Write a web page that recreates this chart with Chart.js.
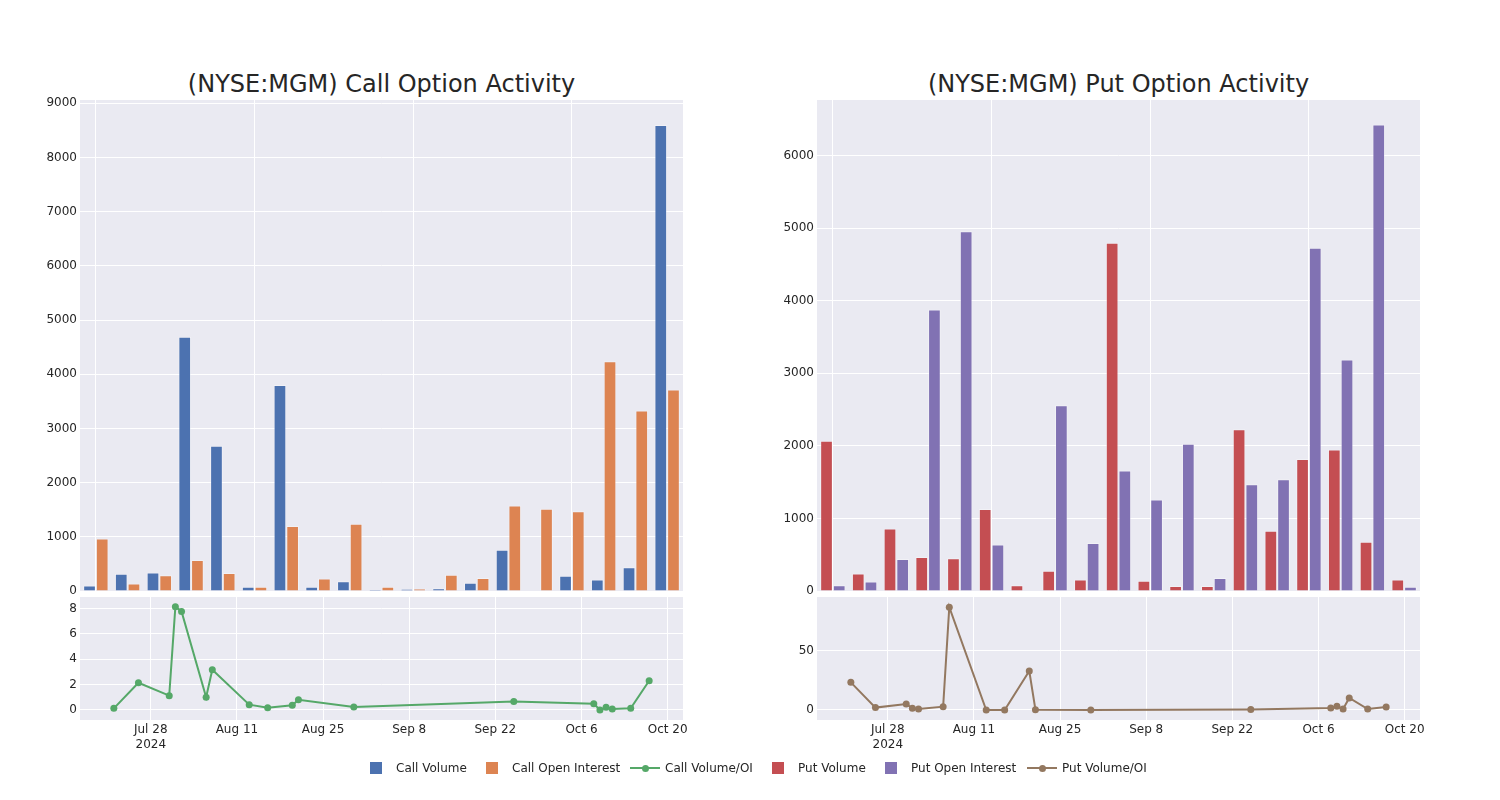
<!DOCTYPE html>
<html>
<head>
<meta charset="utf-8">
<script src="https://cdn.jsdelivr.net/npm/chart.js@4.4.1/dist/chart.umd.min.js"></script>
<style>
  html, body { margin: 0; padding: 0; background: #ffffff; }
  body { width: 1500px; height: 800px; position: relative; overflow: hidden; font-family: 'DejaVu Sans', sans-serif; color: #262626; }
  canvas { position: absolute; }
  .title { position: absolute; width: 603px; text-align: center; font-size: 24px; line-height: 28px; top: 70px; color: #262626; white-space: nowrap; }
  .lg { position: absolute; font-size: 12px; line-height: 16px; top: 760px; color: #262626; white-space: nowrap; }
  .sq { position: absolute; width: 12px; height: 12px; top: 762px; }
  .ln { position: absolute; width: 30px; height: 2px; top: 767px; }
  .dot { position: absolute; width: 7px; height: 7px; border-radius: 50%; top: 764.5px; }
</style>
</head>
<body>
<div class="title" style="left:80px">(NYSE:MGM) Call Option Activity</div>
<div class="title" style="left:817px">(NYSE:MGM) Put Option Activity</div>

<canvas id="c1" width="700" height="600" style="left:0px;top:0px"></canvas>
<canvas id="c2" width="700" height="207" style="left:0px;top:593px"></canvas>
<canvas id="c3" width="700" height="600" style="left:737px;top:0px"></canvas>
<canvas id="c4" width="700" height="207" style="left:737px;top:593px"></canvas>

<div id="legend"></div>

<script>
// ---------------- DATA ----------------
const categories = ['2024-07-22','2024-07-26','2024-07-31','2024-08-01','2024-08-02','2024-08-06','2024-08-07','2024-08-13','2024-08-16','2024-08-20','2024-08-21','2024-08-30','2024-09-25','2024-10-08','2024-10-09','2024-10-10','2024-10-11','2024-10-14','2024-10-17'];

const callVolume = [100, 320, 340, 4690, 2680, 80, 3800, 80, 180, 25, 35, 50, 150, 760, 0, 280, 210, 440, 8600];
const callOpenInterest = [970, 140, 290, 570, 330, 80, 1200, 230, 1240, 80, 45, 300, 240, 1580, 1520, 1470, 4240, 3330, 3720];
const putVolume = [2070, 240, 860, 470, 450, 1130, 80, 280, 160, 4800, 140, 70, 70, 2230, 830, 1820, 1950, 680, 160];
const putOpenInterest = [80, 130, 440, 3880, 4960, 640, 0, 2560, 660, 1660, 1260, 2030, 180, 1470, 1540, 4730, 3190, 6430, 60];

const ratioDates = ['2024-07-22','2024-07-26','2024-07-31','2024-08-01','2024-08-02','2024-08-06','2024-08-07','2024-08-13','2024-08-16','2024-08-20','2024-08-21','2024-08-30','2024-09-25','2024-10-08','2024-10-09','2024-10-10','2024-10-11','2024-10-14','2024-10-17'];
const callVolumeOI = [0.13, 2.15, 1.13, 8.14, 7.77, 1.0, 3.18, 0.42, 0.18, 0.37, 0.81, 0.24, 0.66, 0.5, 0.0, 0.21, 0.08, 0.13, 2.31];
const putVolumeOI = [23.2, 2.0, 5.0, 1.4, 0.8, 2.8, 86.3, 0.0, 0.0, 32.7, 0.3, 0.1, 0.5, 1.7, 3.1, 0.8, 10.1, 0.8, 2.5];

const dateTicks = ['2024-07-28','2024-08-11','2024-08-25','2024-09-08','2024-09-22','2024-10-06','2024-10-20'];
const dateTickLabels = [['Jul 28','2024'], 'Aug 11', 'Aug 25', 'Sep 8', 'Sep 22', 'Oct 6', 'Oct 20'];

const callBarTicks = [0,1000,2000,3000,4000,5000,6000,7000,8000,9000];
const putBarTicks = [0,1000,2000,3000,4000,5000,6000];
const callRatioTicks = [0,2,4,6,8];
const putRatioTicks = [0,50];

// ---------------- STYLE ----------------
const COLORS = {
  callVol: '#4C72B0', callOI: '#DD8452', callRatio: '#55A868',
  putVol: '#C44E52', putOI: '#8172B3', putRatio: '#937860'
};
const BG = '#EAEAF2';
const TXT = '#262626';
const FONT = { family: "'DejaVu Sans', sans-serif", size: 12 };

Chart.defaults.font.family = FONT.family;
Chart.defaults.font.size = FONT.size;
Chart.defaults.color = TXT;
Chart.defaults.animation = false;

const bgPlugin = {
  id: 'bg',
  beforeDraw(chart) {
    const a = chart.chartArea, ctx = chart.ctx;
    ctx.save();
    ctx.fillStyle = BG;
    ctx.fillRect(a.left, a.top, a.right - a.left, a.bottom - a.top);
    ctx.restore();
  }
};

const toMs = s => Date.parse(s + 'T00:00:00Z');
const zeroPad = s => { s.paddingTop = 0; s.paddingBottom = 0; s.paddingLeft = 0; s.paddingRight = 0; };

function barChart(id, labels, d1, d2, c1, c2, yTicks, yMax) {
  return new Chart(document.getElementById(id), {
    type: 'bar',
    data: {
      labels: labels,
      datasets: [
        { data: d1, backgroundColor: c1, borderColor: 'rgba(255,255,255,0.35)', borderWidth: 1, categoryPercentage: 0.8, barPercentage: 1.0 },
        { data: d2, backgroundColor: c2, borderColor: 'rgba(255,255,255,0.35)', borderWidth: 1, categoryPercentage: 0.8, barPercentage: 1.0 }
      ]
    },
    options: {
      responsive: false,
      animation: false,
      layout: { padding: { top: 100, bottom: 9, left: 0, right: 17 } },
      plugins: { legend: { display: false }, tooltip: { enabled: false } },
      scales: {
        x: {
          type: 'category',
          offset: true,
          ticks: { display: false, autoSkip: false },
          grid: { offset: false, drawTicks: false, color: c => (c.index % 5 === 0 ? '#ffffff' : 'rgba(0,0,0,0)'), lineWidth: 1 },
          border: { display: false },
          afterFit: s => { s.height = 0; zeroPad(s); }
        },
        y: {
          min: 0, max: yMax,
          afterBuildTicks: s => { s.ticks = yTicks.map(v => ({ value: v })); },
          ticks: { padding: 3, color: TXT, font: FONT, callback: v => String(v) },
          grid: { drawTicks: false, color: '#ffffff', lineWidth: 1 },
          border: { display: false },
          afterFit: s => { s.width = 80; zeroPad(s); }
        }
      }
    },
    plugins: [bgPlugin]
  });
}

function lineChart(id, dates, vals, color, yTicks, yMin, yMax) {
  return new Chart(document.getElementById(id), {
    type: 'line',
    data: {
      datasets: [{
        data: dates.map((d, i) => ({ x: toMs(d), y: vals[i] })),
        borderColor: color, backgroundColor: color,
        borderWidth: 2, pointRadius: 3.5, pointBorderWidth: 0,
        pointBackgroundColor: color, tension: 0
      }]
    },
    options: {
      responsive: false,
      animation: false,
      layout: { padding: { top: 4, bottom: 40, left: 0, right: 17 } },
      plugins: { legend: { display: false }, tooltip: { enabled: false } },
      scales: {
        x: {
          type: 'linear',
          min: Date.parse('2024-07-16T12:00:00Z'),
          max: Date.parse('2024-10-22T12:00:00Z'),
          afterBuildTicks: s => { s.ticks = dateTicks.map(d => ({ value: toMs(d) })); },
          ticks: {
            autoSkip: false, maxRotation: 0, padding: 3, color: TXT, font: FONT,
            callback: (v, i) => dateTickLabels[i]
          },
          grid: { drawTicks: false, color: '#ffffff', lineWidth: 1 },
          border: { display: false },
          afterFit: s => { s.height = 40; zeroPad(s); }
        },
        y: {
          min: yMin, max: yMax,
          afterBuildTicks: s => { s.ticks = yTicks.map(v => ({ value: v })); },
          ticks: { padding: 3, color: TXT, font: FONT, callback: v => String(v) },
          grid: { drawTicks: false, color: '#ffffff', lineWidth: 1 },
          border: { display: false },
          afterFit: s => { s.width = 80; zeroPad(s); }
        }
      }
    },
    plugins: [bgPlugin]
  });
}

barChart('c1', categories, callVolume, callOpenInterest, COLORS.callVol, COLORS.callOI, callBarTicks, 9061);
lineChart('c2', ratioDates, callVolumeOI, COLORS.callRatio, callRatioTicks, -0.79, 8.91);
barChart('c3', categories, putVolume, putOpenInterest, COLORS.putVol, COLORS.putOI, putBarTicks, 6768);
lineChart('c4', ratioDates, putVolumeOI, COLORS.putRatio, putRatioTicks, -8.4, 94.9);

// ---------------- LEGEND ----------------
const legendItems = [
  { label: 'Call Volume', color: COLORS.callVol, kind: 'sq', mx: 370, tx: 396 },
  { label: 'Call Open Interest', color: COLORS.callOI, kind: 'sq', mx: 486, tx: 512 },
  { label: 'Call Volume/OI', color: COLORS.callRatio, kind: 'ln', mx: 630, tx: 665 },
  { label: 'Put Volume', color: COLORS.putVol, kind: 'sq', mx: 772, tx: 798 },
  { label: 'Put Open Interest', color: COLORS.putOI, kind: 'sq', mx: 885, tx: 911 },
  { label: 'Put Volume/OI', color: COLORS.putRatio, kind: 'ln', mx: 1027, tx: 1062 }
];
const lg = document.getElementById('legend');
legendItems.forEach(it => {
  if (it.kind === 'sq') {
    const s = document.createElement('div');
    s.className = 'sq'; s.style.left = it.mx + 'px'; s.style.background = it.color;
    lg.appendChild(s);
  } else {
    const l = document.createElement('div');
    l.className = 'ln'; l.style.left = it.mx + 'px'; l.style.background = it.color;
    lg.appendChild(l);
    const d = document.createElement('div');
    d.className = 'dot'; d.style.left = (it.mx + 11.5) + 'px'; d.style.background = it.color;
    lg.appendChild(d);
  }
  const t = document.createElement('div');
  t.className = 'lg'; t.style.left = it.tx + 'px'; t.textContent = it.label;
  lg.appendChild(t);
});
</script>
</body>
</html>
